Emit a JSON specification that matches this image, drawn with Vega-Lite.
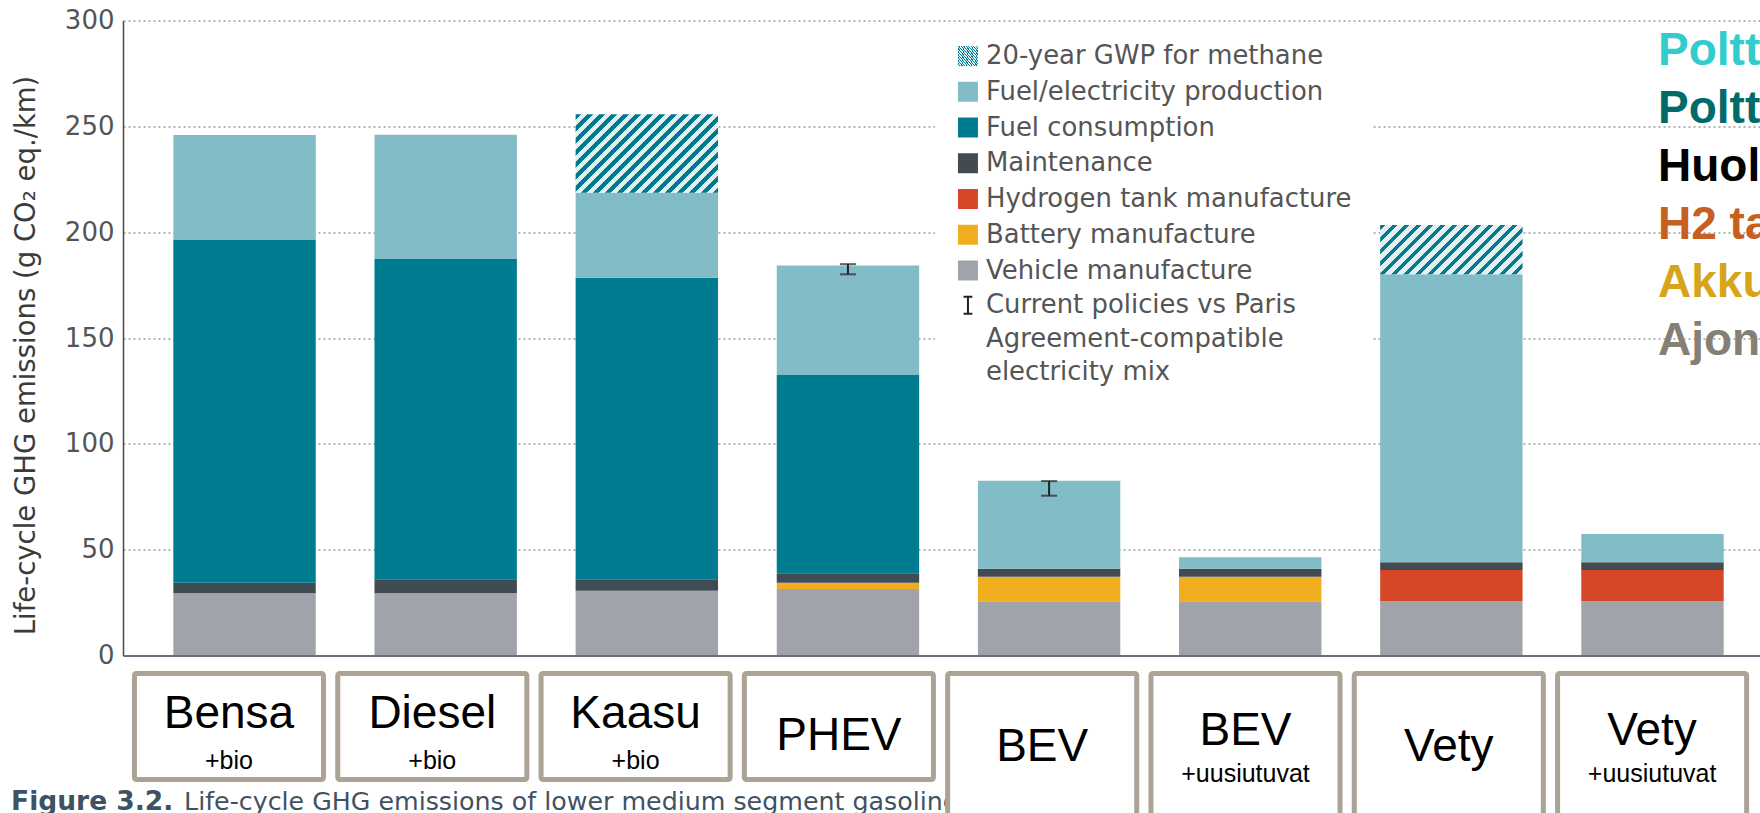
{
  "$schema": "https://vega.github.io/schema/vega-lite/v6.json",
  "autosize": {"type": "none"},
  "width": 1637,
  "height": 635,
  "padding": {"left": 123, "top": 20.5, "right": 0, "bottom": 157.5},
  "background": "white",
  "config": {"view": {"stroke": null}},
  "datasets": {
    "segments": [
      {"vehicle": "Bensa +bio", "component": "Vehicle manufacture", "value": 29.4},
      {"vehicle": "Bensa +bio", "component": "Maintenance", "value": 5.0},
      {"vehicle": "Bensa +bio", "component": "Fuel consumption", "value": 161.9},
      {"vehicle": "Bensa +bio", "component": "Fuel/electricity production", "value": 49.6},
      {"vehicle": "Diesel +bio", "component": "Vehicle manufacture", "value": 29.4},
      {"vehicle": "Diesel +bio", "component": "Maintenance", "value": 6.6},
      {"vehicle": "Diesel +bio", "component": "Fuel consumption", "value": 151.3},
      {"vehicle": "Diesel +bio", "component": "Fuel/electricity production", "value": 58.7},
      {"vehicle": "Kaasu +bio", "component": "Vehicle manufacture", "value": 30.6},
      {"vehicle": "Kaasu +bio", "component": "Maintenance", "value": 5.4},
      {"vehicle": "Kaasu +bio", "component": "Fuel consumption", "value": 142.5},
      {"vehicle": "Kaasu +bio", "component": "Fuel/electricity production", "value": 40.1},
      {"vehicle": "Kaasu +bio", "component": "20-year GWP for methane", "value": 37.1},
      {"vehicle": "PHEV", "component": "Vehicle manufacture", "value": 31.4},
      {"vehicle": "PHEV", "component": "Battery manufacture", "value": 3.0},
      {"vehicle": "PHEV", "component": "Maintenance", "value": 4.4},
      {"vehicle": "PHEV", "component": "Fuel consumption", "value": 93.7},
      {"vehicle": "PHEV", "component": "Fuel/electricity production", "value": 51.8},
      {"vehicle": "BEV", "component": "Vehicle manufacture", "value": 25.6},
      {"vehicle": "BEV", "component": "Battery manufacture", "value": 11.6},
      {"vehicle": "BEV", "component": "Maintenance", "value": 3.8},
      {"vehicle": "BEV", "component": "Fuel/electricity production", "value": 41.6},
      {"vehicle": "BEV +uusiutuvat", "component": "Vehicle manufacture", "value": 25.6},
      {"vehicle": "BEV +uusiutuvat", "component": "Battery manufacture", "value": 11.6},
      {"vehicle": "BEV +uusiutuvat", "component": "Maintenance", "value": 3.8},
      {"vehicle": "BEV +uusiutuvat", "component": "Fuel/electricity production", "value": 5.4},
      {"vehicle": "Vety", "component": "Vehicle manufacture", "value": 25.6},
      {"vehicle": "Vety", "component": "Hydrogen tank manufacture", "value": 14.8},
      {"vehicle": "Vety", "component": "Maintenance", "value": 3.6},
      {"vehicle": "Vety", "component": "Fuel/electricity production", "value": 136.1},
      {"vehicle": "Vety", "component": "20-year GWP for methane", "value": 23.3},
      {"vehicle": "Vety +uusiutuvat", "component": "Vehicle manufacture", "value": 25.6},
      {"vehicle": "Vety +uusiutuvat", "component": "Hydrogen tank manufacture", "value": 14.8},
      {"vehicle": "Vety +uusiutuvat", "component": "Maintenance", "value": 3.6},
      {"vehicle": "Vety +uusiutuvat", "component": "Fuel/electricity production", "value": 13.4}
    ],
    "fi": [
      {"en": "Fuel/electricity production", "fi": "Polttoaineen tuotanto"},
      {"en": "Fuel consumption", "fi": "Polttoaineen kulutus"},
      {"en": "Maintenance", "fi": "Huolto"},
      {"en": "Hydrogen tank manufacture", "fi": "H2 tankki"},
      {"en": "Battery manufacture", "fi": "Akku"},
      {"en": "Vehicle manufacture", "fi": "Ajoneuvon valmistus"}
    ],
    "errors": [
      {"vehicle": "PHEV", "low": 180.1, "high": 184.9},
      {"vehicle": "BEV", "low": 75.5, "high": 82.4}
    ],
    "labels": [
      {"vehicle": "Bensa +bio", "main": "Bensa", "sub": "+bio"},
      {"vehicle": "Diesel +bio", "main": "Diesel", "sub": "+bio"},
      {"vehicle": "Kaasu +bio", "main": "Kaasu", "sub": "+bio"},
      {"vehicle": "PHEV", "main": "PHEV", "sub": ""},
      {"vehicle": "BEV", "main": "BEV", "sub": ""},
      {"vehicle": "BEV +uusiutuvat", "main": "BEV", "sub": "+uusiutuvat"},
      {"vehicle": "Vety", "main": "Vety", "sub": ""},
      {"vehicle": "Vety +uusiutuvat", "main": "Vety", "sub": "+uusiutuvat"}
    ],
    "caption": [
      {"bold": "Figure 3.2.", "text": "Life-cycle GHG emissions of lower medium segment gasoline"}
    ]
  },
  "layer": [
    {
      "layer": [
        {
          "data": {"name": "segments"},
          "transform": [
            {"lookup": "component", "from": {"data": {"name": "fi"}, "key": "en", "fields": ["fi"]}},
            {"calculate": "indexof(['Vehicle manufacture','Battery manufacture','Hydrogen tank manufacture','Maintenance','Fuel consumption','Fuel/electricity production','20-year GWP for methane'], datum.component)", "as": "stackOrder"}
          ],
          "mark": {"type": "bar"},
          "encoding": {
            "x": {
              "field": "vehicle", "type": "nominal",
              "scale": {"domain": ["Bensa +bio","Diesel +bio","Kaasu +bio","PHEV","BEV","BEV +uusiutuvat","Vety","Vety +uusiutuvat"], "paddingInner": 0.292, "paddingOuter": 0.2154, "align": 0.581},
              "axis": {"labels": false, "ticks": false, "title": null, "grid": false, "domainColor": "#66717b", "domainWidth": 2, "zindex": 1}
            },
            "y": {
              "field": "value", "type": "quantitative", "stack": "zero",
              "scale": {"domain": [0, 300]},
              "axis": {
                "values": [0, 50, 100, 150, 200, 250, 300],
                "grid": true, "gridDash": [2, 3], "gridColor": "#b4b4b4", "gridWidth": 2, "gridOpacity": 1,
                "ticks": false, "labelPadding": 9,
                "labelFont": "DejaVu Sans", "labelFontSize": 26, "labelColor": "#555555",
                "domainColor": "#4a4a4a", "domainWidth": 1.5,
                "title": "Life-cycle GHG emissions (g CO₂ eq./km)",
                "titleFont": "DejaVu Sans", "titleFontSize": 27.5, "titleFontWeight": "normal",
                "titleColor": "#3b3b3b", "titlePadding": 24, "titleY": 334.5
              }
            },
            "color": {
              "condition": [
                {"test": "datum.component === '20-year GWP for methane' && datum.vehicle === 'Kaasu +bio'",
                 "value": {"gradient": "linear", "x1": 0, "y1": 0, "x2": 1.19, "y2": 0.656, "stops": [
                  {"offset": 0, "color": "#007B8F"}, {"offset": 0.0244, "color": "#007B8F"}, {"offset": 0.0244, "color": "#E2F0F2"}, {"offset": 0.0543, "color": "#E2F0F2"},
                  {"offset": 0.0543, "color": "#007B8F"}, {"offset": 0.0787, "color": "#007B8F"}, {"offset": 0.0787, "color": "#E2F0F2"}, {"offset": 0.1086, "color": "#E2F0F2"},
                  {"offset": 0.1086, "color": "#007B8F"}, {"offset": 0.133, "color": "#007B8F"}, {"offset": 0.133, "color": "#E2F0F2"}, {"offset": 0.1629, "color": "#E2F0F2"},
                  {"offset": 0.1629, "color": "#007B8F"}, {"offset": 0.1873, "color": "#007B8F"}, {"offset": 0.1873, "color": "#E2F0F2"}, {"offset": 0.2172, "color": "#E2F0F2"},
                  {"offset": 0.2172, "color": "#007B8F"}, {"offset": 0.2416, "color": "#007B8F"}, {"offset": 0.2416, "color": "#E2F0F2"}, {"offset": 0.2715, "color": "#E2F0F2"},
                  {"offset": 0.2715, "color": "#007B8F"}, {"offset": 0.2959, "color": "#007B8F"}, {"offset": 0.2959, "color": "#E2F0F2"}, {"offset": 0.3258, "color": "#E2F0F2"},
                  {"offset": 0.3258, "color": "#007B8F"}, {"offset": 0.3502, "color": "#007B8F"}, {"offset": 0.3502, "color": "#E2F0F2"}, {"offset": 0.3801, "color": "#E2F0F2"},
                  {"offset": 0.3801, "color": "#007B8F"}, {"offset": 0.4045, "color": "#007B8F"}, {"offset": 0.4045, "color": "#E2F0F2"}, {"offset": 0.4344, "color": "#E2F0F2"},
                  {"offset": 0.4344, "color": "#007B8F"}, {"offset": 0.4588, "color": "#007B8F"}, {"offset": 0.4588, "color": "#E2F0F2"}, {"offset": 0.4887, "color": "#E2F0F2"},
                  {"offset": 0.4887, "color": "#007B8F"}, {"offset": 0.5131, "color": "#007B8F"}, {"offset": 0.5131, "color": "#E2F0F2"}, {"offset": 0.543, "color": "#E2F0F2"},
                  {"offset": 0.543, "color": "#007B8F"}, {"offset": 0.5674, "color": "#007B8F"}, {"offset": 0.5674, "color": "#E2F0F2"}, {"offset": 0.5973, "color": "#E2F0F2"},
                  {"offset": 0.5973, "color": "#007B8F"}, {"offset": 0.6217, "color": "#007B8F"}, {"offset": 0.6217, "color": "#E2F0F2"}, {"offset": 0.6516, "color": "#E2F0F2"},
                  {"offset": 0.6516, "color": "#007B8F"}, {"offset": 0.676, "color": "#007B8F"}, {"offset": 0.676, "color": "#E2F0F2"}, {"offset": 0.7059, "color": "#E2F0F2"},
                  {"offset": 0.7059, "color": "#007B8F"}, {"offset": 0.7303, "color": "#007B8F"}, {"offset": 0.7303, "color": "#E2F0F2"}, {"offset": 0.7602, "color": "#E2F0F2"},
                  {"offset": 0.7602, "color": "#007B8F"}, {"offset": 0.7846, "color": "#007B8F"}, {"offset": 0.7846, "color": "#E2F0F2"}, {"offset": 0.8145, "color": "#E2F0F2"},
                  {"offset": 0.8145, "color": "#007B8F"}, {"offset": 0.8389, "color": "#007B8F"}, {"offset": 0.8389, "color": "#E2F0F2"}, {"offset": 0.8688, "color": "#E2F0F2"},
                  {"offset": 0.8688, "color": "#007B8F"}, {"offset": 0.8932, "color": "#007B8F"}, {"offset": 0.8932, "color": "#E2F0F2"}, {"offset": 0.9231, "color": "#E2F0F2"},
                  {"offset": 0.9231, "color": "#007B8F"}, {"offset": 0.9475, "color": "#007B8F"}, {"offset": 0.9475, "color": "#E2F0F2"}, {"offset": 0.9774, "color": "#E2F0F2"},
                  {"offset": 0.9774, "color": "#007B8F"}, {"offset": 1, "color": "#007B8F"}
                 ]}},
                {"test": "datum.component === '20-year GWP for methane' && datum.vehicle === 'Vety'",
                 "value": {"gradient": "linear", "x1": 0, "y1": 0, "x2": 1.202, "y2": 0.416, "stops": [
                  {"offset": 0, "color": "#007B8F"}, {"offset": 0.0282, "color": "#007B8F"}, {"offset": 0.0282, "color": "#E2F0F2"}, {"offset": 0.0626, "color": "#E2F0F2"},
                  {"offset": 0.0626, "color": "#007B8F"}, {"offset": 0.0908, "color": "#007B8F"}, {"offset": 0.0908, "color": "#E2F0F2"}, {"offset": 0.1252, "color": "#E2F0F2"},
                  {"offset": 0.1252, "color": "#007B8F"}, {"offset": 0.1534, "color": "#007B8F"}, {"offset": 0.1534, "color": "#E2F0F2"}, {"offset": 0.1878, "color": "#E2F0F2"},
                  {"offset": 0.1878, "color": "#007B8F"}, {"offset": 0.216, "color": "#007B8F"}, {"offset": 0.216, "color": "#E2F0F2"}, {"offset": 0.2504, "color": "#E2F0F2"},
                  {"offset": 0.2504, "color": "#007B8F"}, {"offset": 0.2786, "color": "#007B8F"}, {"offset": 0.2786, "color": "#E2F0F2"}, {"offset": 0.313, "color": "#E2F0F2"},
                  {"offset": 0.313, "color": "#007B8F"}, {"offset": 0.3412, "color": "#007B8F"}, {"offset": 0.3412, "color": "#E2F0F2"}, {"offset": 0.3756, "color": "#E2F0F2"},
                  {"offset": 0.3756, "color": "#007B8F"}, {"offset": 0.4038, "color": "#007B8F"}, {"offset": 0.4038, "color": "#E2F0F2"}, {"offset": 0.4382, "color": "#E2F0F2"},
                  {"offset": 0.4382, "color": "#007B8F"}, {"offset": 0.4664, "color": "#007B8F"}, {"offset": 0.4664, "color": "#E2F0F2"}, {"offset": 0.5008, "color": "#E2F0F2"},
                  {"offset": 0.5008, "color": "#007B8F"}, {"offset": 0.529, "color": "#007B8F"}, {"offset": 0.529, "color": "#E2F0F2"}, {"offset": 0.5634, "color": "#E2F0F2"},
                  {"offset": 0.5634, "color": "#007B8F"}, {"offset": 0.5916, "color": "#007B8F"}, {"offset": 0.5916, "color": "#E2F0F2"}, {"offset": 0.626, "color": "#E2F0F2"},
                  {"offset": 0.626, "color": "#007B8F"}, {"offset": 0.6542, "color": "#007B8F"}, {"offset": 0.6542, "color": "#E2F0F2"}, {"offset": 0.6886, "color": "#E2F0F2"},
                  {"offset": 0.6886, "color": "#007B8F"}, {"offset": 0.7168, "color": "#007B8F"}, {"offset": 0.7168, "color": "#E2F0F2"}, {"offset": 0.7512, "color": "#E2F0F2"},
                  {"offset": 0.7512, "color": "#007B8F"}, {"offset": 0.7794, "color": "#007B8F"}, {"offset": 0.7794, "color": "#E2F0F2"}, {"offset": 0.8138, "color": "#E2F0F2"},
                  {"offset": 0.8138, "color": "#007B8F"}, {"offset": 0.842, "color": "#007B8F"}, {"offset": 0.842, "color": "#E2F0F2"}, {"offset": 0.8764, "color": "#E2F0F2"},
                  {"offset": 0.8764, "color": "#007B8F"}, {"offset": 0.9046, "color": "#007B8F"}, {"offset": 0.9046, "color": "#E2F0F2"}, {"offset": 0.939, "color": "#E2F0F2"},
                  {"offset": 0.939, "color": "#007B8F"}, {"offset": 0.9672, "color": "#007B8F"}, {"offset": 0.9672, "color": "#E2F0F2"}, {"offset": 1, "color": "#E2F0F2"}
                 ]}}
              ],
              "field": "component", "type": "nominal",
              "scale": {
                "domain": ["Fuel/electricity production", "Fuel consumption", "Maintenance", "Hydrogen tank manufacture", "Battery manufacture", "Vehicle manufacture", "Current policies vs Paris Agreement-compatible electricity mix"],
                "range": ["#82BCC7", "#007C91", "#404B54", "#D64727", "#F0AE1E", "#A0A4AA", "#222222"]
              },
              "legend": {
                "title": null, "orient": "none", "legendX": 812, "legendY": 38.3,
                "fillColor": "white", "padding": 20,
                "symbolType": "square", "symbolSize": 400, "symbolStrokeWidth": 0,
                "labelFont": "DejaVu Sans", "labelFontSize": 25.9, "labelColor": "#555555",
                "labelOffset": 5.1, "labelLimit": 800, "rowPadding": 6.75,
                "labelExpr": "datum.value === 'Current policies vs Paris Agreement-compatible electricity mix' ? ['Current policies vs Paris', 'Agreement-compatible', 'electricity mix'] : datum.label",
                "encode": {
                  "symbols": {"update": {
                    "shape": {"signal": "datum.value === 'Current policies vs Paris Agreement-compatible electricity mix' ? 'M-0.44,-0.86H0.44M0,-0.86V0.86M-0.44,0.86H0.44' : 'square'"},
                    "stroke": {"signal": "datum.value === 'Current policies vs Paris Agreement-compatible electricity mix' ? '#222222' : 'transparent'"},
                    "strokeWidth": {"value": 2}
                  }},
                  "labels": {"update": {
                    "lineHeight": {"value": 33.5}
                  }}
                }
              }
            },
            "opacity": {
              "field": "component", "type": "nominal",
              "scale": {"type": "ordinal", "domain": ["20-year GWP for methane"], "range": [1]},
              "legend": {
                "title": null, "orient": "none", "legendX": 824, "legendY": 14.7,
                "fillColor": "white", "padding": 8,
                "symbolType": "square", "symbolSize": 400, "symbolStrokeWidth": 0,
                "labelFont": "DejaVu Sans", "labelFontSize": 25.9, "labelColor": "#555555",
                "labelOffset": 5.1, "labelLimit": 800,
                "encode": {
                  "symbols": {"update": {
                    "fill": {"value": {"gradient": "linear", "x1": 0, "y1": 0, "x2": 1, "y2": 1, "stops": [
                      {"offset": 0, "color": "#E2F0F2"}, {"offset": 0.1, "color": "#E2F0F2"}, {"offset": 0.1, "color": "#007B8F"}, {"offset": 0.23, "color": "#007B8F"},
                      {"offset": 0.23, "color": "#E2F0F2"}, {"offset": 0.4, "color": "#E2F0F2"}, {"offset": 0.4, "color": "#007B8F"}, {"offset": 0.53, "color": "#007B8F"},
                      {"offset": 0.53, "color": "#E2F0F2"}, {"offset": 0.7, "color": "#E2F0F2"}, {"offset": 0.7, "color": "#007B8F"}, {"offset": 0.83, "color": "#007B8F"},
                      {"offset": 0.83, "color": "#E2F0F2"}, {"offset": 1, "color": "#E2F0F2"}
                    ]}},
                    "opacity": {"value": 1}
                  }}
                }
              }
            },
            "strokeDash": {
              "field": "fi", "type": "nominal",
              "scale": {"domain": ["Polttoaineen tuotanto", "Polttoaineen kulutus", "Huolto", "H2 tankki", "Akku", "Ajoneuvon valmistus"], "range": [[1, 0], [1, 0], [1, 0], [1, 0], [1, 0], [1, 0]]},
              "legend": {
                "title": null, "orient": "none", "legendX": 1489, "legendY": 7.2,
                "padding": 0, "symbolType": "square", "symbolSize": 0, "symbolOpacity": 0, "symbolStrokeWidth": 0,
                "labelOffset": 0, "labelFont": "Liberation Sans", "labelFontWeight": "bold",
                "labelFontSize": 46, "labelLimit": 2000, "rowPadding": 12,
                "labelColor": {"expr": "datum.value === 'Polttoaineen tuotanto' ? '#33CCCC' : datum.value === 'Polttoaineen kulutus' ? '#006B68' : datum.value === 'Huolto' ? '#000000' : datum.value === 'H2 tankki' ? '#C5601F' : datum.value === 'Akku' ? '#D7A51A' : '#857F75'"}
              }
            },
            "order": {"field": "stackOrder", "type": "quantitative"}
          }
        },
        {
          "data": {"name": "errors"},
          "mark": {"type": "rule", "color": "#222222", "strokeWidth": 2},
          "encoding": {
            "x": {"field": "vehicle", "type": "nominal", "scale": {"domain": ["Bensa +bio","Diesel +bio","Kaasu +bio","PHEV","BEV","BEV +uusiutuvat","Vety","Vety +uusiutuvat"]}},
            "y": {"field": "low", "type": "quantitative", "scale": {"domain": [0, 300]}},
            "y2": {"field": "high"}
          }
        },
        {
          "data": {"name": "errors"},
          "mark": {"type": "tick", "color": "#222222", "thickness": 2, "size": 16},
          "encoding": {
            "x": {"field": "vehicle", "type": "nominal", "scale": {"domain": ["Bensa +bio","Diesel +bio","Kaasu +bio","PHEV","BEV","BEV +uusiutuvat","Vety","Vety +uusiutuvat"]}},
            "y": {"field": "low", "type": "quantitative", "scale": {"domain": [0, 300]}}
          }
        },
        {
          "data": {"name": "errors"},
          "mark": {"type": "tick", "color": "#222222", "thickness": 2, "size": 16},
          "encoding": {
            "x": {"field": "vehicle", "type": "nominal", "scale": {"domain": ["Bensa +bio","Diesel +bio","Kaasu +bio","PHEV","BEV","BEV +uusiutuvat","Vety","Vety +uusiutuvat"]}},
            "y": {"field": "high", "type": "quantitative", "scale": {"domain": [0, 300]}}
          }
        },
        {
          "data": {"name": "caption"},
          "mark": {"type": "text", "align": "left", "baseline": "alphabetic", "dx": -233.5, "font": "DejaVu Sans", "fontSize": 26.5, "fontWeight": "bold", "color": "#3f5263"},
          "encoding": {
            "x": {"datum": "Bensa +bio", "type": "nominal", "scale": {"domain": ["Bensa +bio","Diesel +bio","Kaasu +bio","PHEV","BEV","BEV +uusiutuvat","Vety","Vety +uusiutuvat"]}},
            "y": {"datum": -72.8, "type": "quantitative", "scale": {"domain": [0, 300]}},
            "text": {"field": "bold"}
          }
        },
        {
          "data": {"name": "caption"},
          "mark": {"type": "text", "align": "left", "baseline": "alphabetic", "dx": -60.5, "font": "DejaVu Sans", "fontSize": 25.3, "color": "#3f5263"},
          "encoding": {
            "x": {"datum": "Bensa +bio", "type": "nominal", "scale": {"domain": ["Bensa +bio","Diesel +bio","Kaasu +bio","PHEV","BEV","BEV +uusiutuvat","Vety","Vety +uusiutuvat"]}},
            "y": {"datum": -72.8, "type": "quantitative", "scale": {"domain": [0, 300]}},
            "text": {"field": "text"}
          }
        }
      ]
    },
    {
      "data": {"name": "labels"},
      "encoding": {
        "x": {"field": "vehicle", "type": "nominal", "axis": null, "scale": {"domain": ["Bensa +bio","Diesel +bio","Kaasu +bio","PHEV","BEV","BEV +uusiutuvat","Vety","Vety +uusiutuvat"], "paddingInner": 0, "paddingOuter": 0.026, "align": 0.41}}
      },
      "layer": [
        {
          "transform": [{"filter": "indexof(['Bensa +bio','Diesel +bio','Kaasu +bio','PHEV'], datum.vehicle) >= 0"}],
          "mark": {"type": "bar", "fill": "white", "stroke": "#ABA396", "strokeWidth": 5, "cornerRadius": 2, "width": {"band": 0.93}},
          "encoding": {
            "y": {"datum": -8.5, "type": "quantitative", "scale": {"domain": [0, 300]}},
            "y2": {"datum": -58.6}
          }
        },
        {
          "transform": [{"filter": "indexof(['Bensa +bio','Diesel +bio','Kaasu +bio','PHEV'], datum.vehicle) < 0"}],
          "mark": {"type": "bar", "fill": "white", "stroke": "#ABA396", "strokeWidth": 5, "cornerRadius": 2, "width": {"band": 0.93}},
          "encoding": {
            "y": {"datum": -8.5, "type": "quantitative", "scale": {"domain": [0, 300]}},
            "y2": {"datum": -85}
          }
        },
        {
          "transform": [{"filter": "datum.sub === '+bio'"}],
          "mark": {"type": "text", "font": "Liberation Sans", "fontSize": 46, "color": "#000000", "align": "center", "baseline": "alphabetic"},
          "encoding": {
            "y": {"datum": -34.3, "type": "quantitative", "scale": {"domain": [0, 300]}},
            "text": {"field": "main"}
          }
        },
        {
          "transform": [{"filter": "datum.sub === '+bio'"}],
          "mark": {"type": "text", "font": "Liberation Sans", "fontSize": 25, "color": "#000000", "align": "center", "baseline": "alphabetic"},
          "encoding": {
            "y": {"datum": -53.8, "type": "quantitative", "scale": {"domain": [0, 300]}},
            "text": {"field": "sub"}
          }
        },
        {
          "transform": [{"filter": "datum.vehicle === 'PHEV'"}],
          "mark": {"type": "text", "font": "Liberation Sans", "fontSize": 46, "color": "#000000", "align": "center", "baseline": "alphabetic"},
          "encoding": {
            "y": {"datum": -44.6, "type": "quantitative", "scale": {"domain": [0, 300]}},
            "text": {"field": "main"}
          }
        },
        {
          "transform": [{"filter": "datum.vehicle === 'BEV' || datum.vehicle === 'Vety'"}],
          "mark": {"type": "text", "font": "Liberation Sans", "fontSize": 46, "color": "#000000", "align": "center", "baseline": "alphabetic"},
          "encoding": {
            "y": {"datum": -49.8, "type": "quantitative", "scale": {"domain": [0, 300]}},
            "text": {"field": "main"}
          }
        },
        {
          "transform": [{"filter": "datum.sub === '+uusiutuvat'"}],
          "mark": {"type": "text", "font": "Liberation Sans", "fontSize": 46, "color": "#000000", "align": "center", "baseline": "alphabetic"},
          "encoding": {
            "y": {"datum": -42.3, "type": "quantitative", "scale": {"domain": [0, 300]}},
            "text": {"field": "main"}
          }
        },
        {
          "transform": [{"filter": "datum.sub === '+uusiutuvat'"}],
          "mark": {"type": "text", "font": "Liberation Sans", "fontSize": 25, "color": "#000000", "align": "center", "baseline": "alphabetic"},
          "encoding": {
            "y": {"datum": -59.8, "type": "quantitative", "scale": {"domain": [0, 300]}},
            "text": {"field": "sub"}
          }
        }
      ]
    }
  ],
  "resolve": {"scale": {"x": "independent"}}
}
